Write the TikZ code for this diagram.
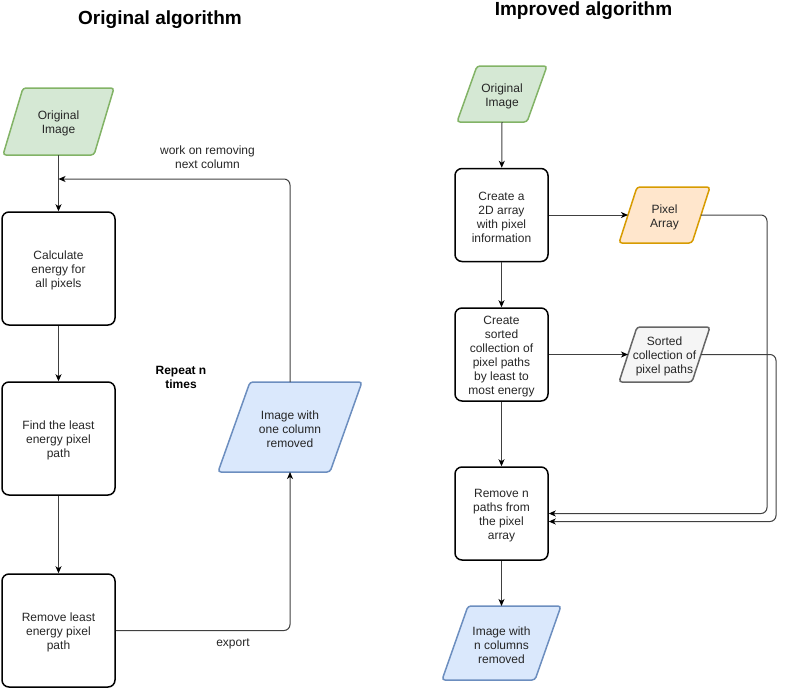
\documentclass[tikz,border=0pt]{standalone}
\usepackage{fontspec}
\setmainfont{Liberation Sans}
\usetikzlibrary{arrows.meta}
\definecolor{greenF}{HTML}{D5E8D4}
\definecolor{greenD}{HTML}{82B366}
\definecolor{orangeF}{HTML}{FFE6CC}
\definecolor{orangeD}{HTML}{D79B00}
\definecolor{grayF}{HTML}{F5F5F5}
\definecolor{grayD}{HTML}{666666}
\definecolor{blueF}{HTML}{DAE8FC}
\definecolor{blueD}{HTML}{6C8EBF}
\newcommand{\mypgram}[8]{%
  \draw[#7, line width=1.5pt, rounded corners=3pt] ({#2-#4/2+#6},{#3-#5/2}) -- ({#2+#4/2},{#3-#5/2}) -- ({#2+#4/2-#6},{#3+#5/2}) -- ({#2-#4/2},{#3+#5/2}) -- cycle;
  \node[txt] (#1) at (#2,#3) {#8};
  \coordinate (#1-t) at (#2,{#3-#5/2});
  \coordinate (#1-b) at (#2,{#3+#5/2});
  \coordinate (#1-l) at ({#2-#4/2+#6/2},#3);
  \coordinate (#1-r) at ({#2+#4/2-#6/2},#3);
}
\newcommand{\mystep}[5]{%
  \node[#4] (#1) at (#2,#3) {};
  \node[txt] (#1-txt) at (#1.center) {#5};
}
\tikzset{
  txt/.style={align=center, font=\fontsize{12}{14}\selectfont, text=black!85, inner sep=0pt, yshift=-2pt},
  boldtxt/.style={align=center, font=\bfseries\fontsize{12}{14}\selectfont, text=black, inner sep=0pt, yshift=-2pt},
  title/.style={font=\bfseries\fontsize{19}{22}\selectfont, text=black, inner sep=0pt},
  stepbox/.style={draw=black, line width=1.5pt, rounded corners=7pt, minimum width=113pt, minimum height=113pt, inner sep=0pt},
  smallbox/.style={stepbox, minimum width=93pt, minimum height=93pt},
  conn/.style={draw=black!75, line width=1pt, rounded corners=6pt, -{Stealth[length=7pt,width=6pt,inset=2pt,color=black]}},
  greenP/.style={fill=greenF, draw=greenD},
  orangeP/.style={fill=orangeF, draw=orangeD},
  grayP/.style={fill=grayF, draw=grayD},
  blueP/.style={fill=blueF, draw=blueD}
}
\begin{document}
\begin{tikzpicture}[x=1pt,y=-1pt]
\useasboundingbox (0,0) rectangle (785,689);
% titles
\node[title] (t1) at (160,20) {Original algorithm};
\node[title] (t2) at (583.5,11) {Improved algorithm};
% left column
\mypgram{gl}{58.5}{121.5}{111}{67}{20}{greenP}{Original\\Image}
\mystep{A}{58.5}{268.5}{stepbox}{Calculate\\energy for\\all pixels}
\mystep{B}{58.5}{438.5}{stepbox}{Find the least\\energy pixel\\path}
\mystep{C}{58.5}{630.5}{stepbox}{Remove least\\energy pixel\\path}
\mypgram{bl}{290}{427}{144}{90}{32}{blueP}{Image with\\one column\\removed}
\coordinate (join) at (58.5,179);
\draw[conn] (gl-b) -- (A);
\draw[conn] (A) -- (B);
\draw[conn] (B) -- (C);
\draw[conn] (C.east) -| (bl-b);
\draw[conn] (bl-t) |- (join);
\node[txt] (lbl1) at (207.5,155) {work on removing\\next column};
\node[txt] (lbl2) at (233,642) {export};
\node[boldtxt] (rep) at (181,375) {Repeat n\\times};
% right column
\mypgram{gr}{502}{94}{90}{56}{20}{greenP}{Original\\Image}
\mystep{D}{501.5}{215}{smallbox}{Create a\\2D array\\with pixel\\information}
\mystep{E}{501.5}{354.5}{smallbox}{Create\\sorted\\collection of\\pixel paths\\by least to\\most energy}
\mystep{F}{501.5}{513.5}{smallbox}{Remove n\\paths from\\the pixel\\array}
\mypgram{pa}{664.5}{215}{91}{56}{18}{orangeP}{Pixel\\Array}
\mypgram{sc}{664.5}{354.5}{91}{55}{18}{grayP}{Sorted\\collection of\\pixel paths}
\mypgram{br}{501.5}{643}{119}{74}{26}{blueP}{Image with\\n columns\\removed}
\draw[conn] (gr-b) -- (D);
\draw[conn] (D) -- (E);
\draw[conn] (E) -- (F);
\draw[conn] (F) -- (br-t);
\draw[conn] (D.east) -- (pa-l);
\draw[conn] (E.east) -- (sc-l);
\draw[conn] (pa-r) -- ++(66,0) |- (F.east);
\draw[conn] (sc-r) -- ++(75,0) |- ([yshift=-8pt]F.east);
\end{tikzpicture}
\end{document}
